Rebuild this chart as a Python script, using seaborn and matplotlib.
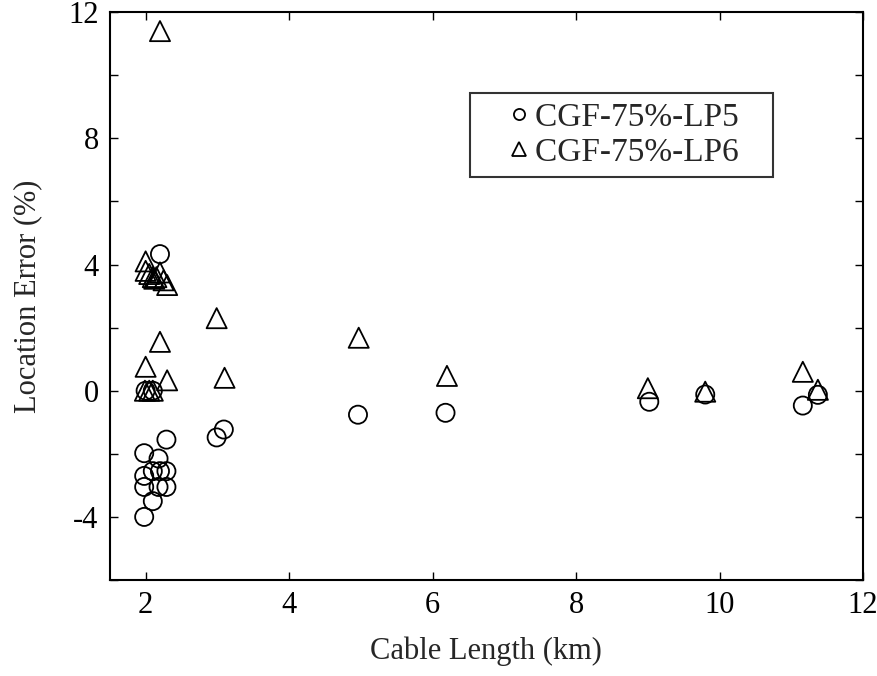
import numpy as np
import pandas as pd
import matplotlib
matplotlib.use("Agg")
import matplotlib.pyplot as plt
from matplotlib.ticker import MultipleLocator
import seaborn as sns

# Datos
lp5_x = [2.2, 2.0, 2.1, 2.29, 1.98, 1.98, 1.98, 1.98, 2.1, 2.18, 2.1, 2.2, 2.29, 2.18, 2.29,
         2.99, 3.09, 4.96, 6.18, 9.02, 9.8, 11.16, 11.37]
lp5_y = [4.33, 0.0, 0.0, -1.55, -1.98, -2.7, -3.05, -4.0, -3.5, -2.15, -2.55, -2.55, -2.55, -3.05, -3.05,
         -1.48, -1.23, -0.76, -0.7, -0.35, -0.12, -0.47, -0.13]

lp6_x = [2.2, 2.0, 2.0, 2.05, 2.1, 2.15, 2.2, 2.25, 2.3, 2.12, 2.2, 2.0, 2.3, 1.99, 2.05, 2.1,
         2.99, 3.1, 4.97, 6.2, 9.0, 9.8, 11.16, 11.37]
lp6_y = [11.4, 4.1, 3.8, 3.7, 3.6, 3.6, 3.75, 3.5, 3.35, 3.55, 1.55, 0.76, 0.33, 0.0, 0.0, 0.0,
         2.3, 0.41, 1.68, 0.47, 0.08, -0.03, 0.6, 0.03]

series_names = ["CGF-75%-LP5", "CGF-75%-LP6"]

df5 = pd.DataFrame({"x": lp5_x, "y": lp5_y})
df6 = pd.DataFrame({"x": lp6_x, "y": lp6_y})

sns.set_theme(style="ticks")
plt.rcParams["font.family"] = ["Liberation Serif", "DejaVu Serif"]
plt.rcParams["axes.unicode_minus"] = False

fig = plt.figure(figsize=(8.78, 6.76), dpi=100)
ax = fig.add_axes([0.125, 0.142, 0.858, 0.84])

# markers huecos
sns.scatterplot(data=df5, x="x", y="y", marker="o", s=170, facecolor="none",
                edgecolor="black", linewidth=1.3, ax=ax)
sns.scatterplot(data=df6, x="x", y="y", marker="^", s=210, facecolor="none",
                edgecolor="black", linewidth=1.3, ax=ax)

ax.set_xlim(1.5, 12)
ax.set_ylim(-6, 12)
ax.xaxis.set_major_locator(MultipleLocator(2))
ax.yaxis.set_major_locator(MultipleLocator(4))
ax.yaxis.set_minor_locator(MultipleLocator(2))
ax.tick_params(which="both", direction="in", top=True, right=True, length=6, width=1,
               labelsize=22, pad=8, colors="black")
for sp in ax.spines.values():
    sp.set_linewidth(1.5)
    sp.set_color("black")

ax.set_xlabel("Cable Length (km)", fontsize=22, labelpad=12)
ax.set_ylabel("Location Error (%)", fontsize=22, labelpad=19)

# leyenda
h1 = plt.Line2D([], [], marker="o", ls="none", mfc="none", mec="black", ms=8, mew=1.3)
h2 = plt.Line2D([], [], marker="^", ls="none", mfc="none", mec="black", ms=10, mew=1.3)
leg = ax.legend([h1, h2], [n + "   " for n in series_names], loc="upper left",
                bbox_to_anchor=(0.478, 0.857), fontsize=24, frameon=True, fancybox=False,
                edgecolor="black", handletextpad=-0.71, borderpad=0.27, handlelength=2.4,
                labelspacing=0.14, borderaxespad=0)
leg.get_frame().set_linewidth(1.5)

fig.savefig("out.png", dpi=100)
